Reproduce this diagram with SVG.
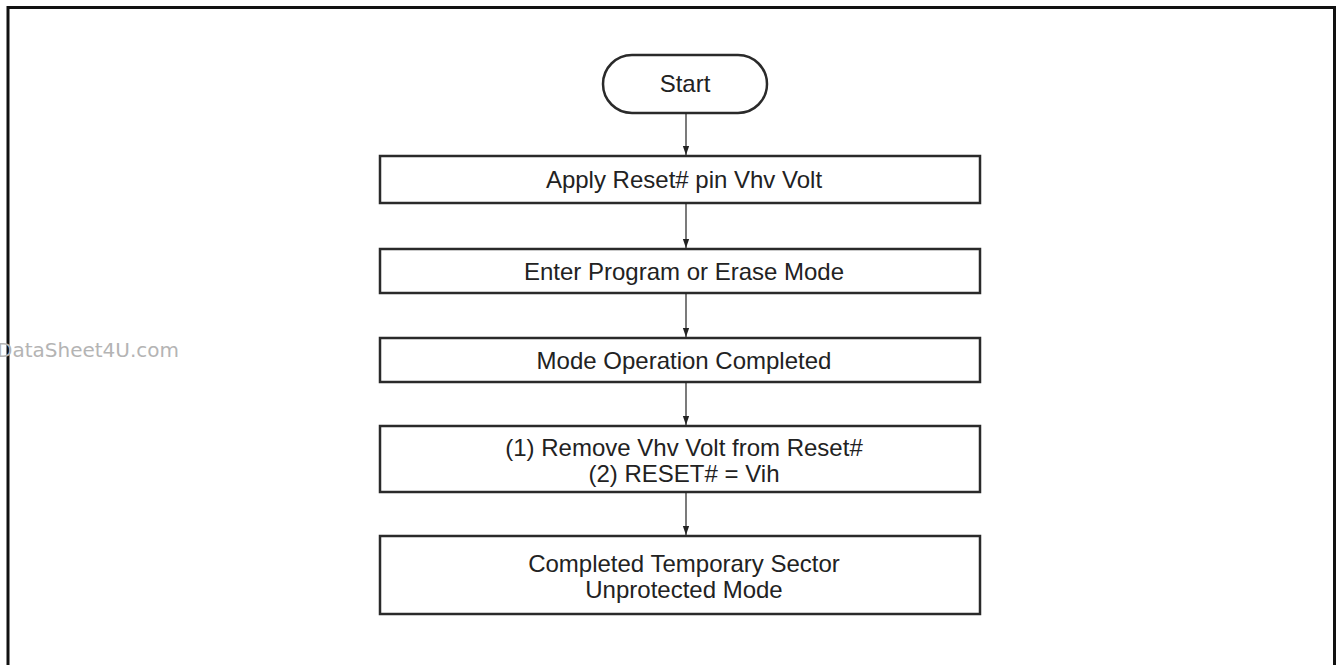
<svg xmlns="http://www.w3.org/2000/svg" width="1336" height="665" viewBox="0 0 1336 665">
<style>
.box{fill:#fff;stroke:#2a2a2a;stroke-width:2.5}
.t{font-family:"Liberation Sans",Arial,sans-serif;font-size:24px;fill:#222;text-anchor:middle}
.c{stroke:#222;stroke-width:1.2;fill:none;marker-end:url(#ah)}
</style>
<defs>
<marker id="ah" viewBox="0 0 10 10" refX="10" refY="5" markerWidth="9" markerHeight="10" markerUnits="userSpaceOnUse" orient="auto">
<path d="M0,1.5 L10,5 L0,8.5 Z" fill="#222"/>
</marker>
</defs>
<rect width="1336" height="665" fill="#fff"/>
<path d="M8,670 V7.5 H1334.5 V670" fill="none" stroke="#111" stroke-width="3"/>
<text x="-3" y="357" font-family="'DejaVu Sans',sans-serif" font-size="20" fill="#b4b4b4">DataSheet4U.com</text>
<g id="start">
<rect class="box" x="603" y="55" width="164" height="58" rx="29" ry="29"/>
<text class="t" x="685" y="92">Start</text>
</g>
<g id="n1">
<rect class="box" x="380" y="156" width="600" height="47"/>
<text class="t" x="684" y="188">Apply Reset# pin Vhv Volt</text>
</g>
<g id="n2">
<rect class="box" x="380" y="249" width="600" height="44"/>
<text class="t" x="684" y="280">Enter Program or Erase Mode</text>
</g>
<g id="n3">
<rect class="box" x="380" y="338" width="600" height="44"/>
<text class="t" x="684" y="369">Mode Operation Completed</text>
</g>
<g id="n4">
<rect class="box" x="380" y="426" width="600" height="66"/>
<text class="t" x="684" y="456">(1) Remove Vhv Volt from Reset#</text>
<text class="t" x="684" y="482">(2) RESET# = Vih</text>
</g>
<g id="n5">
<rect class="box" x="380" y="536" width="600" height="78"/>
<text class="t" x="684" y="572">Completed Temporary Sector</text>
<text class="t" x="684" y="598">Unprotected Mode</text>
</g>
<g id="connectors">
<line class="c" x1="686" y1="113" x2="686" y2="155"/>
<line class="c" x1="686" y1="203" x2="686" y2="248"/>
<line class="c" x1="686" y1="293" x2="686" y2="337"/>
<line class="c" x1="686" y1="382" x2="686" y2="425"/>
<line class="c" x1="686" y1="492" x2="686" y2="535"/>
</g>
</svg>
